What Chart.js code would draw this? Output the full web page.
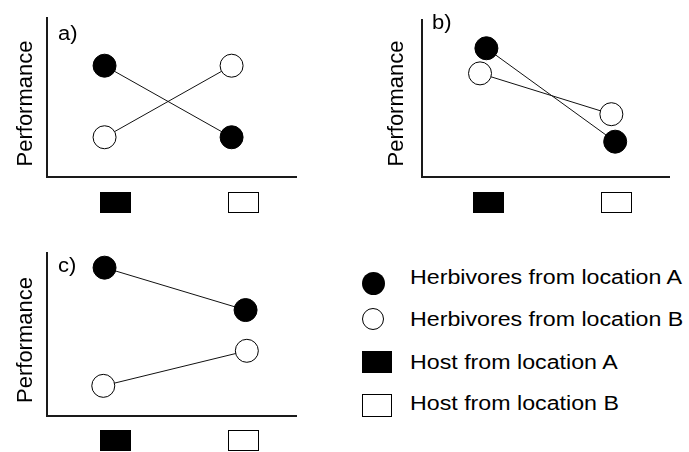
<!DOCTYPE html>
<html><head><meta charset="utf-8">
<script src="https://cdn.jsdelivr.net/npm/chart.js@4.4.1/dist/chart.umd.min.js"></script>
<style>
html,body{margin:0;padding:0;background:#fff;}
body{width:689px;height:452px;overflow:hidden;position:relative;font-family:"Liberation Sans",Arial,sans-serif;}
canvas.panel{position:absolute;}
.li{position:absolute;left:410px;font-size:20px;line-height:20px;color:#000;white-space:nowrap;transform:scaleX(1.16);transform-origin:0 50%;}
.sym{position:absolute;box-sizing:border-box;}
</style></head><body>
<canvas id="pa" class="panel"></canvas>
<canvas id="pb" class="panel"></canvas>
<canvas id="pc" class="panel"></canvas>
<div id="legend"></div>
<script>
// ---------- data ----------
const hostLabels = ['Host from location A', 'Host from location B'];
const herbivoreLabels = ['Herbivores from location A', 'Herbivores from location B'];
const panelNames = ['a)', 'b)', 'c)'];
const axisTitle = 'Performance';
// host categories on the x axis: 0 = host A, 1 = host B
const hostX = [0, 1];
// panel a
const aHerbAx = [-0.09, 0.91];
const aHerbAy = [7.0, 2.5];
const aHerbBx = [-0.09, 0.91];
const aHerbBy = [2.5, 7.0];
// panel b
const bHerbAx = [-0.02, 0.99];
const bHerbAy = [8.2, 2.25];
const bHerbBx = [-0.07, 0.96];
const bHerbBy = [6.6, 4.0];
// panel c
const cHerbAx = [-0.09, 1.02];
const cHerbAy = [9.1, 6.5];
const cHerbBx = [-0.10, 1.03];
const cHerbBy = [1.85, 4.0];

// ---------- layout ----------
const FONT = '"Liberation Sans", Arial, sans-serif';
const panels = [
  {id:'pa', left:0, top:0, w:310, h:228, area:{l:47,t:18,r:296,b:177}, xmin:-0.543, xmax:1.417,
   sqTop:192, titleBase:32, titleCy:103.5, lblX:58, lblY:40,
   series:[[aHerbAx,aHerbAy],[aHerbBx,aHerbBy]]},
  {id:'pb', left:360, top:0, w:329, h:228, area:{l:62,t:20,r:309,b:177}, xmin:-0.525, xmax:1.412,
   sqTop:192, titleBase:43, titleCy:103.5, lblX:72, lblY:29,
   series:[[bHerbAx,bHerbAy],[bHerbBx,bHerbBy]]},
  {id:'pc', left:0, top:232, w:310, h:220, area:{l:47,t:21,r:296,b:184}, xmin:-0.543, xmax:1.417,
   sqTop:198, titleBase:32, titleCy:108, lblX:58, lblY:40,
   series:[[cHerbAx,cHerbAy],[cHerbBx,cHerbBy]]}
];
const SQW = 31, SQH = 21;

const panelDecor = {
  id:'panelDecor',
  afterDraw(chart, args, o){
    const ctx = chart.ctx, xs = chart.scales.x;
    ctx.save();
    hostX.forEach((hx, i) => {
      const x = Math.round(xs.getPixelForValue(hx) - SQW/2);
      if (i === 0) { ctx.fillStyle = '#000'; ctx.fillRect(x, o.sqTop, SQW, SQH); }
      else {
        ctx.fillStyle = '#fff'; ctx.fillRect(x, o.sqTop, SQW, SQH);
        ctx.strokeStyle = '#000'; ctx.lineWidth = 1;
        ctx.strokeRect(x + 0.5, o.sqTop + 0.5, SQW - 1, SQH - 1);
      }
    });
    ctx.restore();
    ctx.save();
    ctx.fillStyle = '#000';
    ctx.font = '22px ' + FONT;
    ctx.translate(o.titleBase, o.titleCy);
    ctx.rotate(-Math.PI/2);
    ctx.textAlign = 'center'; ctx.textBaseline = 'alphabetic';
    ctx.fillText(axisTitle, 0, 0);
    ctx.restore();
    ctx.save();
    ctx.fillStyle = '#000';
    ctx.font = '20px ' + FONT;
    ctx.textAlign = 'left'; ctx.textBaseline = 'alphabetic';
    ctx.translate(o.lblX, o.lblY);
    ctx.scale(1.1, 1);
    ctx.fillText(o.label, 0, 0);
    ctx.restore();
  }
};

panels.forEach((p, pi) => {
  const cv = document.getElementById(p.id);
  cv.width = p.w; cv.height = p.h;
  cv.style.left = p.left + 'px'; cv.style.top = p.top + 'px';
  cv.style.width = p.w + 'px'; cv.style.height = p.h + 'px';
  const border = {display:true, width:2, color:'#1a1a1a'};
  new Chart(cv, {
    type:'scatter',
    data:{datasets: p.series.map((s, si) => ({
      label: herbivoreLabels[si],
      data: s[0].map((x, i) => ({x, y: s[1][i]})),
      showLine:true, borderColor:'#111', borderWidth:1, tension:0,
      pointRadius:11.5, pointHoverRadius:11.5, pointBorderWidth:1,
      pointBorderColor:'#000', pointBackgroundColor: si === 0 ? '#000' : '#fff',
      clip:false
    }))},
    options:{
      responsive:false, animation:false, events:[], devicePixelRatio:1,
      layout:{padding:{left:0, top:p.area.t, right:p.w - p.area.r, bottom:0}},
      plugins:{legend:{display:false}, tooltip:{enabled:false},
        panelDecor:{sqTop:p.sqTop, titleBase:p.titleBase, titleCy:p.titleCy, lblX:p.lblX, lblY:p.lblY, label:panelNames[pi]}},
      scales:{
        x:{type:'linear', min:p.xmin, max:p.xmax, grid:{display:false, drawTicks:false}, ticks:{display:false}, border,
           afterFit:(s) => { s.height = p.h - p.area.b; }},
        y:{type:'linear', min:0, max:10, grid:{display:false, drawTicks:false}, ticks:{display:false}, border,
           afterFit:(s) => { s.width = p.area.l; }}
      }
    },
    plugins:[panelDecor]
  });
});

// ---------- legend ----------
const legend = document.getElementById('legend');
const legendItems = [
  {text: herbivoreLabels[0], top:266.5, sym:{left:362, top:272, w:23, h:23, r:'50%', bg:'#000', bd:'none'}},
  {text: herbivoreLabels[1], top:309, sym:{left:362, top:308, w:22, h:22, r:'50%', bg:'#fff', bd:'1px solid #000'}},
  {text: hostLabels[0], top:351.5, sym:{left:362, top:351, w:30, h:22, r:'0', bg:'#000', bd:'none'}},
  {text: hostLabels[1], top:393, sym:{left:362, top:394, w:30, h:23, r:'0', bg:'#fff', bd:'1px solid #000'}}
];
legendItems.forEach(it => {
  const s = document.createElement('div');
  s.className = 'sym';
  Object.assign(s.style, {left:it.sym.left+'px', top:it.sym.top+'px', width:it.sym.w+'px', height:it.sym.h+'px',
    borderRadius:it.sym.r, background:it.sym.bg, border:it.sym.bd});
  legend.appendChild(s);
  const t = document.createElement('div');
  t.className = 'li'; t.style.top = it.top + 'px'; t.textContent = it.text;
  legend.appendChild(t);
});
</script>
</body></html>
